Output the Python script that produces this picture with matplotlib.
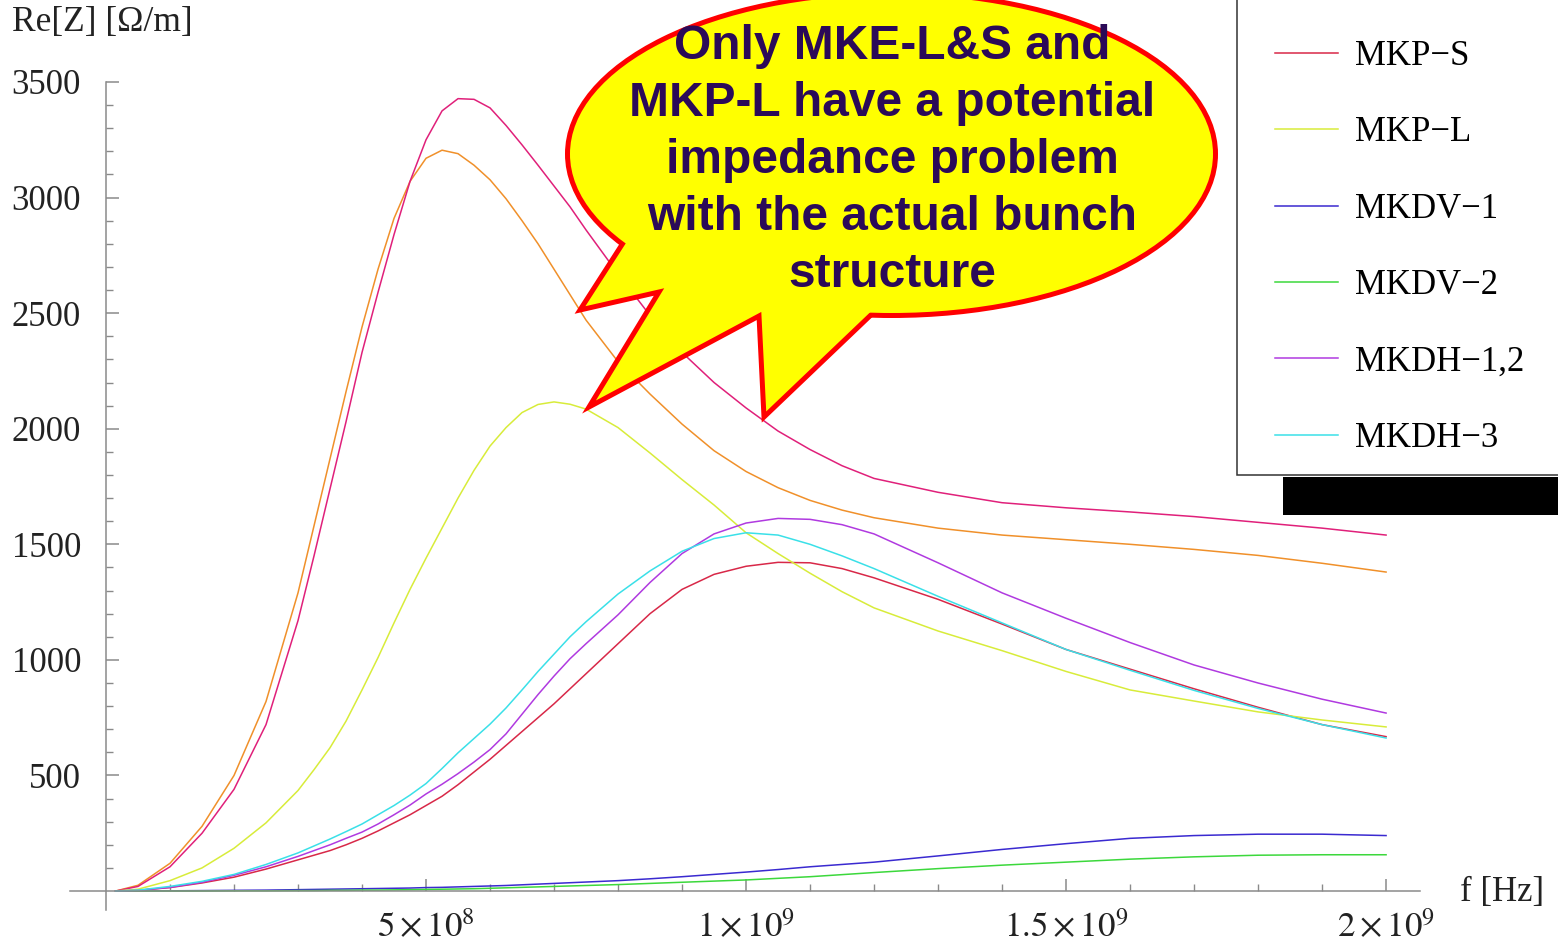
import matplotlib.pyplot as plt
import matplotlib.patches as mpatches
import numpy as np

plt.rcParams['font.family'] = ['Liberation Serif', 'DejaVu Serif']
plt.rcParams['mathtext.fontset'] = 'stix'

# frequency grid (GHz) and Re[Z] (Ohm/m)
freq = [0.015, 0.05, 0.1, 0.15, 0.2, 0.25, 0.3,
        0.325, 0.35, 0.375, 0.4, 0.425, 0.45, 0.475, 0.5, 0.525, 0.55, 0.575, 0.6, 0.625, 0.65,
        0.675, 0.7, 0.725, 0.75,
        0.8, 0.85, 0.9, 0.95, 1.0, 1.05, 1.1, 1.15, 1.2,
        1.3, 1.4, 1.5, 1.6, 1.7, 1.8, 1.9, 2.0]

mke_l = [0, 25, 120, 280, 500, 820, 1290,
         1580, 1870, 2160, 2440, 2690, 2910, 3070, 3170, 3205, 3190, 3140, 3077, 2995, 2900,
         2800, 2690, 2580, 2470,
         2290, 2150, 2020, 1905, 1815, 1745, 1690, 1648, 1615,
         1570, 1540, 1520, 1500, 1478, 1452, 1418, 1380]
mke_s = [0, 20, 105, 250, 440, 720, 1170,
         1450, 1740, 2030, 2330, 2590, 2840, 3070, 3250, 3375, 3428, 3425, 3388, 3312, 3228,
         3140, 3050, 2960, 2860,
         2670, 2490, 2330, 2200, 2090, 1990, 1910, 1840, 1785,
         1725, 1680, 1658, 1640, 1620, 1595, 1570, 1540]
mkp_s = [0, 3, 15, 35, 60, 95, 135,
         155, 175, 200, 228, 260, 295, 330, 370, 410, 460, 515, 570, 630, 690,
         750, 810, 875, 940,
         1070, 1200, 1305, 1370, 1405, 1422, 1420, 1395, 1355,
         1262, 1155, 1045, 960, 875, 795, 720, 668]
mkp_l = [0, 8, 45, 100, 185, 295, 435,
         525, 620, 735, 870, 1010, 1160, 1305, 1440, 1570, 1700, 1820, 1925, 2005, 2070,
         2105, 2116, 2106, 2085,
         2005, 1895, 1780, 1670, 1550, 1460, 1375, 1295, 1225,
         1125, 1040, 950, 870, 822, 775, 740, 710]
mkdv_1 = [0, 0, 1, 2, 3, 4, 6,
          7, 8, 9, 10, 11, 12, 13, 15, 16, 18, 20, 22, 24, 27,
          30, 33, 36, 39,
          45, 53, 62, 72, 82, 93, 105, 115, 125,
          152, 180, 205, 228, 240, 246, 246, 240]
mkdv_2 = [0, 0, 0, 0, 1, 1, 2,
          2, 3, 3, 4, 4, 5, 6, 7, 8, 9, 10, 12, 14, 16,
          18, 20, 22, 24,
          28, 33, 38, 43, 48, 55, 62, 71, 80,
          97, 112, 125, 138, 148, 155, 157, 157]
mkdh_12 = [0, 3, 16, 38, 68, 105, 150,
           175, 200, 228, 255, 290, 330, 372, 420, 462, 508, 558, 612, 680, 765,
           850, 930, 1005, 1070,
           1195, 1335, 1460, 1545, 1592, 1612, 1608, 1585, 1545,
           1420, 1290, 1180, 1075, 978, 900, 830, 770]
mkdh_3 = [0, 4, 20, 42, 72, 115, 165,
          195, 225, 257, 290, 330, 370, 415, 465, 530, 598, 660, 722, 792, 870,
          950, 1025, 1100, 1165,
          1285, 1385, 1470, 1525, 1550, 1540, 1500, 1450, 1395,
          1275, 1160, 1045, 955, 868, 790, 720, 662]

hidden = [('MKE\u2212L', mke_l, '#F0902A'),
          ('MKE\u2212S', mke_s, '#E0207A')]
shown = [('MKP\u2212S', mkp_s, '#D82848'),
         ('MKP\u2212L', mkp_l, '#D8EC3A'),
         ('MKDV\u22121', mkdv_1, '#3A2AD0'),
         ('MKDV\u22122', mkdv_2, '#3CD83C'),
         ('MKDH\u22121,2', mkdh_12, '#B03AE0'),
         ('MKDH\u22123', mkdh_3, '#3AE0E8')]

W, H = 1558, 948
fig = plt.figure(figsize=(W / 100, H / 100), dpi=100)
ax = fig.add_axes([70 / W, 38 / H, 1350 / W, 828 / H])

f_hz = np.array(freq) * 1e9
for name, vals, col in hidden:
    ax.plot(f_hz, vals, color=col, lw=1.1)
handles = []
for name, vals, col in shown:
    ln, = ax.plot(f_hz, vals, color=col, lw=1.1, label=name)
    handles.append(ln)

ax.set_xlim(-0.05625e9, 2.053e9)
ax.set_ylim(-82, 3500)
ax.spines['left'].set_position(('data', 0))
ax.spines['bottom'].set_position(('data', 0))
ax.spines['top'].set_visible(False)
ax.spines['right'].set_visible(False)
for s in ['left', 'bottom']:
    ax.spines[s].set_color('#8a8a8a')
    ax.spines[s].set_linewidth(1.1)

ax.set_xticks([5e8, 1e9, 1.5e9, 2e9])
ax.set_xticklabels([r'$5\times10^{8}$', r'$1\times10^{9}$', r'$1.5\times10^{9}$', r'$2\times10^{9}$'])
ax.set_xticks(np.arange(1e8, 2.01e9, 1e8), minor=True)
ax.set_yticks(np.arange(500, 3501, 500))
ax.set_yticks(np.arange(100, 3501, 100), minor=True)
ax.tick_params(which='both', direction='in', color='#8a8a8a', labelsize=25, labelcolor='#222222')
ax.tick_params(which='major', length=9, width=1.1)
ax.tick_params(which='minor', length=5, width=1.0)
ax.tick_params(axis='x', pad=15)
ax.tick_params(axis='y', pad=18)

fig.text(12 / W, 1 - 22 / H, 'Re[Z] [\u03a9/m]', fontsize=25.5, va='center', ha='left', color='#222222')
fig.text(1460 / W, 1 - 893 / H, 'f [Hz]', fontsize=25, va='center', ha='left', color='#222222')

ax.legend(handles=handles, loc='upper left', bbox_to_anchor=(1275 / W, 1 - 40 / H),
          bbox_transform=fig.transFigure, frameon=False, fontsize=25,
          handlelength=1.8, handletextpad=0.49, labelspacing=1.25, borderpad=0, borderaxespad=0)

# overlay in pixel coordinates for the callout and legend box
ov = fig.add_axes([0, 0, 1, 1], zorder=5)
ov.set_xlim(0, W)
ov.set_ylim(H, 0)
ov.axis('off')

ov.add_patch(mpatches.Rectangle((1237, -20), 400, 495, facecolor='none', edgecolor='#333333', lw=1.1))
ov.add_patch(mpatches.Rectangle((1283, 477), 300, 38, facecolor='black', edgecolor='none'))

yellow, red = '#FFFF00', '#FF0000'
ell = dict(xy=(891.5, 154), width=643, height=318)
ov.add_patch(mpatches.Ellipse(**ell, facecolor=yellow, edgecolor=red, lw=7.2))
tail = [(650, 201), (580, 310), (659, 292), (589, 407), (759, 316), (764, 417), (895, 292)]
ov.add_patch(mpatches.Polygon(tail, closed=True, facecolor=yellow, edgecolor=red, lw=3.6, joinstyle='miter'))
ov.add_patch(mpatches.Ellipse(**ell, facecolor=yellow, edgecolor='none'))

bubble_lines = ['Only MKE-L&S and', 'MKP-L have a potential', 'impedance problem',
                'with the actual bunch', 'structure']
for i, t in enumerate(bubble_lines):
    ov.text(892, 59 + 57 * i, t, ha='center', va='baseline', fontsize=34.5, fontweight='bold',
            family='Liberation Sans', color='#2B0A58')

fig.savefig('out.png', dpi=100)
